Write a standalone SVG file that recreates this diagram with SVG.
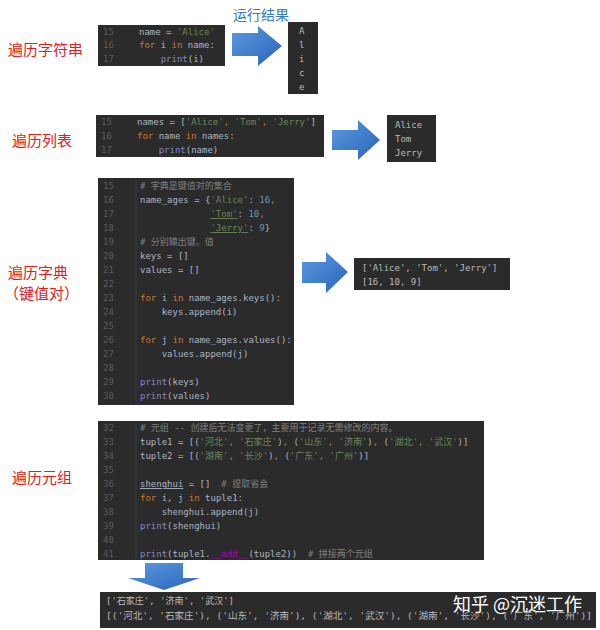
<svg xmlns="http://www.w3.org/2000/svg" width="600" height="630" viewBox="0 0 600 630" xml:space="preserve">
<style>
.bg{fill:#2b2b2b}
.gut{stroke:#3c3f41;stroke-width:1}
text{font-family:"DejaVu Sans Mono","Liberation Mono","Noto Sans CJK SC",monospace;font-size:9px;fill:#a9b7c6;white-space:pre}
.ln{fill:#5a5d60}
.k{fill:#cc7832}.s{fill:#6a8759}.n{fill:#6897bb}.c{fill:#808080}.p{fill:#8888c6}.m{fill:#b200b2}
.out{fill:#bbbbbb}
.lbl{font-family:"Noto Sans CJK SC",sans-serif;font-size:15px;fill:#e02020}
</style>
<defs>
<linearGradient id="ag" x1="0" y1="0" x2="1" y2="1"><stop offset="0" stop-color="#5b9be0"/><stop offset="1" stop-color="#2a63b8"/></linearGradient>
</defs>
<rect width="600" height="630" fill="#fff"/>
<g id="labels">
<text class="lbl" x="8" y="55">遍历字符串</text>
<text class="lbl" x="12" y="146">遍历列表</text>
<text class="lbl" x="8" y="278">遍历字典</text>
<text class="lbl" x="4" y="299">（键值对）</text>
<text class="lbl" x="12" y="483">遍历元组</text>
<text x="233" y="20" style="font-family:'Noto Sans CJK SC',sans-serif;font-size:14px;fill:#3a78c8">运行结果</text>
</g>
<g id="connectors">
<polygon fill="url(#ag)" points="232,33 258,33 258,26 282,46 258,66 258,56 232,56"/>
<polygon fill="url(#ag)" points="332,130 358,130 358,120 380,140 358,160 358,150 332,150"/>
<polygon fill="url(#ag)" points="302,262 326,262 326,252 348,272 326,293 326,283 302,283"/>
<polygon fill="url(#ag)" points="145,563 183,563 183,578 200,578 164,590 128,578 145,578"/>
</g>
<g id="code1">
<rect class="bg" x="98" y="25" width="127" height="41"/>
<text class="ln" x="103" y="35">15</text><text class="ln" x="103" y="48">16</text><text class="ln" x="103" y="62">17</text>
<text x="139" y="35">name = <tspan class="s">'Alice'</tspan></text>
<text x="139" y="48"><tspan class="k">for</tspan> i <tspan class="k">in</tspan> name:</text>
<text x="139" y="62">    <tspan class="p">print</tspan>(i)</text>
</g>
<g id="out1">
<rect class="bg" x="288" y="22" width="30" height="72"/>
<text class="out" x="299" y="34">A</text><text class="out" x="299" y="48">l</text><text class="out" x="299" y="62">i</text><text class="out" x="299" y="76">c</text><text class="out" x="299" y="90">e</text>
</g>
<g id="code2">
<rect class="bg" x="96" y="115" width="228" height="42"/>
<text class="ln" x="101" y="125">15</text><text class="ln" x="101" y="139">16</text><text class="ln" x="101" y="153">17</text>
<text x="137" y="125">names = [<tspan class="s">'Alice'</tspan><tspan class="k">,</tspan> <tspan class="s">'Tom'</tspan><tspan class="k">,</tspan> <tspan class="s">'Jerry'</tspan>]</text>
<text x="137" y="139"><tspan class="k">for</tspan> name <tspan class="k">in</tspan> names:</text>
<text x="137" y="153">    <tspan class="p">print</tspan>(name)</text>
</g>
<g id="out2">
<rect class="bg" x="387" y="115" width="49" height="47"/>
<text class="out" x="395" y="128">Alice</text><text class="out" x="395" y="142">Tom</text><text class="out" x="395" y="156">Jerry</text>
</g>
<g id="code3">
<rect class="bg" x="98" y="178" width="196" height="227"/>
<line class="gut" x1="136" y1="180" x2="136" y2="404"/>
<text class="ln" x="103" y="189">15</text><text class="ln" x="103" y="203">16</text><text class="ln" x="103" y="217">17</text><text class="ln" x="103" y="231">18</text><text class="ln" x="103" y="245">19</text><text class="ln" x="103" y="259">20</text><text class="ln" x="103" y="273">21</text><text class="ln" x="103" y="287">22</text><text class="ln" x="103" y="301">23</text><text class="ln" x="103" y="315">24</text><text class="ln" x="103" y="329">25</text><text class="ln" x="103" y="343">26</text><text class="ln" x="103" y="357">27</text><text class="ln" x="103" y="371">28</text><text class="ln" x="103" y="385">29</text><text class="ln" x="103" y="399">30</text>
<text class="c" x="140" y="189"># 字典是键值对的集合</text>
<text x="140" y="203">name_ages = {<tspan class="s">'Alice'</tspan>: <tspan class="n">16</tspan><tspan class="k">,</tspan></text>
<text x="140" y="217">             <tspan class="s" text-decoration="underline">'Tom'</tspan>: <tspan class="n">10</tspan><tspan class="k">,</tspan></text>
<text x="140" y="231">             <tspan class="s" text-decoration="underline">'Jerry'</tspan>: <tspan class="n">9</tspan>}</text>
<text class="c" x="140" y="245"># 分别输出键、值</text>
<text x="140" y="259">keys = []</text>
<text x="140" y="273">values = []</text>
<text x="140" y="301"><tspan class="k">for</tspan> i <tspan class="k">in</tspan> name_ages.keys():</text>
<text x="140" y="315">    keys.append(i)</text>
<text x="140" y="343"><tspan class="k">for</tspan> j <tspan class="k">in</tspan> name_ages.values():</text>
<text x="140" y="357">    values.append(j)</text>
<text x="140" y="385"><tspan class="p">print</tspan>(keys)</text>
<text x="140" y="399"><tspan class="p">print</tspan>(values)</text>
</g>
<g id="out3">
<rect class="bg" x="354" y="258" width="156" height="32"/>
<text class="out" x="362" y="271">['Alice', 'Tom', 'Jerry']</text>
<text class="out" x="362" y="285">[16, 10, 9]</text>
</g>
<g id="code4">
<rect class="bg" x="98" y="421" width="386" height="139"/>
<line class="gut" x1="136" y1="423" x2="136" y2="559"/>
<text class="ln" x="103" y="431">32</text><text class="ln" x="103" y="445">33</text><text class="ln" x="103" y="459">34</text><text class="ln" x="103" y="473">35</text><text class="ln" x="103" y="487">36</text><text class="ln" x="103" y="501">37</text><text class="ln" x="103" y="515">38</text><text class="ln" x="103" y="529">39</text><text class="ln" x="103" y="543">40</text><text class="ln" x="103" y="557">41</text>
<text class="c" x="140" y="431"># 元组 -- 创建后无法变更了，主要用于记录无需修改的内容。</text>
<text x="140" y="445">tuple1 = [(<tspan class="s">'河北'</tspan><tspan class="k">,</tspan> <tspan class="s">'石家庄'</tspan>)<tspan class="k">,</tspan> (<tspan class="s">'山东'</tspan><tspan class="k">,</tspan> <tspan class="s">'济南'</tspan>)<tspan class="k">,</tspan> (<tspan class="s">'湖北'</tspan><tspan class="k">,</tspan> <tspan class="s">'武汉'</tspan>)]</text>
<text x="140" y="459">tuple2 = [(<tspan class="s">'湖南'</tspan><tspan class="k">,</tspan> <tspan class="s">'长沙'</tspan>)<tspan class="k">,</tspan> (<tspan class="s">'广东'</tspan><tspan class="k">,</tspan> <tspan class="s">'广州'</tspan>)]</text>
<text x="140" y="487"><tspan text-decoration="underline">shenghui</tspan> = []  <tspan class="c"># 提取省会</tspan></text>
<text x="140" y="501"><tspan class="k">for</tspan> i, j <tspan class="k">in</tspan> tuple1:</text>
<text x="140" y="515">    shenghui.append(j)</text>
<text x="140" y="529"><tspan class="p">print</tspan>(shenghui)</text>
<text x="140" y="557"><tspan class="p">print</tspan>(tuple1.<tspan class="m">__add__</tspan>(tuple2))  <tspan class="c"># 拼接两个元组</tspan></text>
</g>
<g id="out4">
<rect class="bg" x="100" y="592" width="496" height="36"/>
<text class="out" x="106" y="604">['石家庄', '济南', '武汉']</text>
<text class="out" x="106" y="619" textLength="486" lengthAdjust="spacingAndGlyphs">[('河北', '石家庄'), ('山东', '济南'), ('湖北', '武汉'), ('湖南', '长沙'), ('广东', '广州')]</text>
<text x="453" y="611" style="font-family:'Noto Sans CJK SC',sans-serif;font-size:18px;fill:#ffffff">知乎 @沉迷工作</text>
</g>
</svg>
